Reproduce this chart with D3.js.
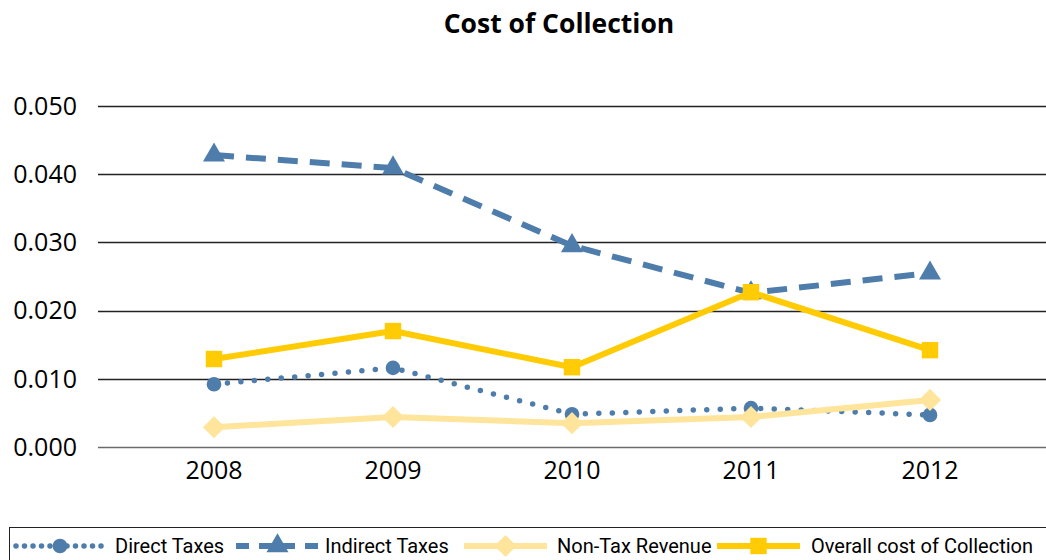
<!DOCTYPE html>
<html>
<head>
<meta charset="utf-8">
<script src="https://cdn.jsdelivr.net/npm/d3@7"></script>
<style>
    body { margin: 0; background: #fff; }
    svg { display: block; font-family: "Open Sans", "DejaVu Sans", sans-serif; }
</style>
</head>
<body>
<div id="chart"></div>
<script>

// chart data
const years = ["2008", "2009", "2010", "2011", "2012"];
const directTaxes = [0.0092, 0.0116, 0.0048, 0.0057, 0.0047];
const indirectTaxes = [0.0428, 0.0409, 0.0295, 0.0226, 0.0255];
const nonTaxRevenue = [0.0029, 0.0044, 0.0035, 0.0044, 0.0069];
const overallCost = [0.0129, 0.0170, 0.0117, 0.0227, 0.0142];
const yTicks = [0, 0.01, 0.02, 0.03, 0.04, 0.05];

const width = 1046, height = 560;

const svg = d3.select("#chart").append("svg")
    .attr("width", width)
    .attr("height", height);

const x = d3.scalePoint()
    .domain(years)
    .range([214, 930]);

const y = d3.scaleLinear()
    .domain([0, 0.05])
    .range([447, 106]);

const blue = "#4e7dac";

const series = [
    {name: "Direct Taxes", values: directTaxes, color: blue, width: 5.5, dash: "0 13.5", cap: "round", marker: "circle"},
    {name: "Indirect Taxes", values: indirectTaxes, color: blue, width: 6, dash: "20 12", cap: "butt", marker: "triangle"},
    {name: "Non-Tax Revenue", values: nonTaxRevenue, color: "#ffe49b", width: 6, dash: null, cap: "butt", marker: "diamond"},
    {name: "Overall cost of Collection", values: overallCost, color: "#ffcb05", width: 6, dash: null, cap: "butt", marker: "square"}
];

const symbols = {
    circle: d3.symbol().type(d3.symbolCircle).size(170),
    triangle: d3.symbol().type(d3.symbolTriangle).size(210),
    diamond: d3.symbol().type(d3.symbolSquare).size(245),
    square: d3.symbol().type(d3.symbolSquare).size(270)
};
// the diamond is a square turned 45 degrees
const rot = s => s.marker === "diamond" ? " rotate(45)" : "";

// title
svg.append("text")
    .attr("x", 559)
    .attr("y", 33)
    .attr("text-anchor", "middle")
    .attr("font-size", "26.5px")
    .attr("font-weight", "bold")
    .text("Cost of Collection");

// horizontal gridlines
svg.append("g")
    .selectAll("line")
    .data(yTicks)
    .join("line")
    .attr("x1", 98)
    .attr("x2", width)
    .attr("y1", d => Math.round(y(d)) + 0.5)
    .attr("y2", d => Math.round(y(d)) + 0.5)
    .attr("stroke", d => d === 0 ? "#6b6b6b" : "#222")
    .attr("stroke-width", 1.4);

// y axis labels
svg.append("g")
    .selectAll("text")
    .data(yTicks)
    .join("text")
    .attr("x", 77)
    .attr("y", d => y(d))
    .attr("dy", "0.35em")
    .attr("text-anchor", "end")
    .attr("font-size", "25px")
    .text(d => d3.format(".3f")(d));

// x axis labels
svg.append("g")
    .selectAll("text")
    .data(years)
    .join("text")
    .attr("x", d => x(d))
    .attr("y", 479)
    .attr("text-anchor", "middle")
    .attr("font-size", "25px")
    .text(d => d);

const line = d3.line()
    .x((d, i) => x(years[i]))
    .y(d => y(d));

// lines and markers
series.forEach(s => {
    const g = svg.append("g");
    g.append("path")
        .attr("d", line(s.values))
        .attr("fill", "none")
        .attr("stroke", s.color)
        .attr("stroke-width", s.width)
        .attr("stroke-dasharray", s.dash)
        .attr("stroke-linecap", s.cap)
        .attr("stroke-linejoin", "round");
    g.selectAll("path.marker")
        .data(s.values)
        .join("path")
        .attr("class", "marker")
        .attr("d", symbols[s.marker])
        .attr("transform", (d, i) => `translate(${x(years[i])},${y(d)})` + rot(s))
        .attr("fill", s.color);
});

// legend
const legend = svg.append("g");
legend.append("rect")
    .attr("x", 9.5)
    .attr("y", 527.5)
    .attr("width", 1046)
    .attr("height", 40)
    .attr("fill", "none")
    .attr("stroke", "#222")
    .attr("stroke-width", 1);

// sample start and label start for each legend entry
const legendSampleX = [16, 236, 464, 717];
const legendTextX = [115, 325, 557, 811];
series.forEach((s, i) => {
    const lx = legendSampleX[i];
    const ly = 546;
    const len = i === 0 ? 88 : 83;
    legend.append("line")
        .attr("x1", lx)
        .attr("x2", lx + len)
        .attr("y1", ly)
        .attr("y2", ly)
        .attr("stroke", s.color)
        .attr("stroke-width", s.width)
        .attr("stroke-dasharray", s.marker === "triangle" ? "13 10" : s.dash === null ? null : "0 8.5")
        .attr("stroke-linecap", s.cap);
    legend.append("path")
        .attr("d", symbols[s.marker])
        .attr("transform", `translate(${lx + len / 2},${ly})` + rot(s))
        .attr("fill", s.color);
    legend.append("text")
        .attr("x", legendTextX[i])
        .attr("y", ly)
        .attr("dy", "0.35em")
        .attr("font-family", "Roboto, sans-serif")
        .attr("font-size", "20px")
        .text(s.name);
});

</script>
</body>
</html>
